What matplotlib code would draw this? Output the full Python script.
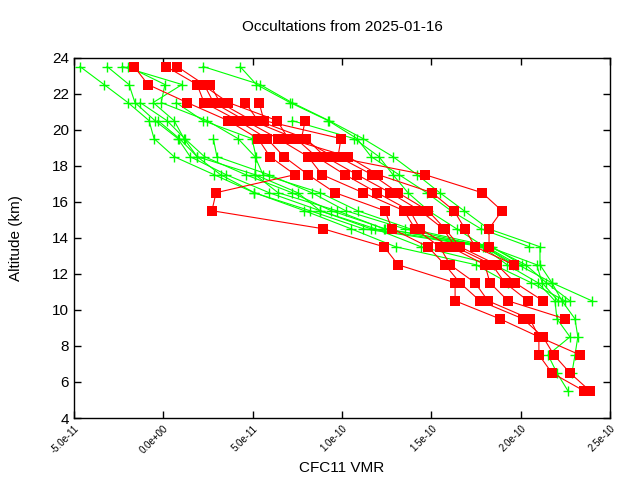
import matplotlib
matplotlib.use("Agg")
import matplotlib.pyplot as plt
import numpy as np

plt.rcParams['font.family'] = ['Liberation Sans', 'DejaVu Sans']

# CFC11 VMR profiles, values in units of 1e-11, listed from the top altitude down (1 km steps)
green_tops = [23.5, 23.5, 23.5, 23.5, 23.5, 23.5, 21.5, 20.5, 20.5, 19.5, 21.5]
green_profiles = [
    [-4.67, -3.32, -1.98, -0.80, -0.52, 0.60, 2.84, 5.08, 8.21, 11.18, 17.88, 19.24, 20.97, 21.92, 22.03, 22.76, 21.53, 22.03, 22.65],
    [-3.15, -1.92, -1.59, -0.47, 0.82, 1.50, 3.51, 5.92, 8.77, 11.60, 18.09, 19.87, 21.75, 22.31, 23.04, 23.20, 23.04, 22.87],
    [-2.31, 1.05, -0.57, 0.60, 1.16, 1.89, 5.13, 6.42, 9.71, 12.33, 18.30, 20.28, 21.44, 22.76],
    [-1.98, 0.09, -0.12, 2.45, 4.18, 5.13, 5.58, 8.77, 10.87, 13.80, 18.40, 20.07],
    [2.22, 5.41, 7.20, 9.27, 11.18, 12.85, 14.20, 15.47, 16.83, 18.19, 21.08, 21.08, 21.75, 23.99],
    [4.29, 5.21, 7.09, 9.22, 10.84, 11.63, 13.19, 14.74, 16.10, 17.77, 20.49],
    [0.71, 2.22, 4.96, 5.19, 5.13, 7.52, 8.77, 11.86, 14.42, 18.50, 20.60, 22.48],
    [7.20, 10.68, 12.07, 12.85, 13.69, 14.84, 16.41, 17.98, 19.55],
    [-0.30, 0.90, 1.89, 3.20, 5.10, 7.90, 10.50, 13.00, 17.50, 19.30],
    [2.80, 3.00, 5.90, 8.30, 10.20, 13.50, 18.00, 19.70],
    [-1.30, 0.20, 1.20, 2.30, 4.60, 7.20, 9.40, 12.40, 18.20, 20.90, 21.20, 22.10],
]

red_tops = [23.5, 23.5, 23.5, 22.5, 21.5, 21.5, 22.5, 20.5]
red_profiles = [
    [-1.64, -0.86, 1.33, 3.62, 5.30, 5.97, 7.37, 2.95, 2.72, 8.94, 12.35, 13.14, 16.33, 16.33, 18.84, 21.02, 21.02, 21.75, 23.55],
    [0.15, 1.89, 2.28, 4.18, 5.80, 6.75, 8.10, 9.61, 12.40, 12.80, 14.81, 15.76, 16.60, 17.72, 20.13, 21.25, 21.86, 22.76, 23.88],
    [0.77, 2.28, 2.81, 4.58, 6.42, 8.10, 8.88, 11.18, 13.47, 14.09, 15.47, 16.05, 17.45, 18.17, 20.52, 21.02, 23.32],
    [2.62, 3.17, 4.96, 7.42, 8.56, 10.16, 11.96, 13.80, 14.37, 16.05, 18.00, 18.28, 19.29, 22.48],
    [4.58, 5.30, 7.99, 9.05, 10.84, 12.69, 14.37, 15.66, 16.33, 18.40, 19.12, 20.41],
    [5.36, 5.63, 9.94, 9.78, 11.68, 13.14, 14.81, 15.76, 16.60, 18.67, 19.69, 21.25],
    [2.18, 3.64, 6.37, 6.99, 10.34, 12.02, 15.04, 16.27, 16.88, 17.45, 19.62],
    [7.94, 7.73, 9.50, 14.64, 17.84, 18.95, 18.23, 18.23],
]

xticks = [-5e-11, 0.0, 5e-11, 1e-10, 1.5e-10, 2e-10, 2.5e-10]
yticks = [4, 6, 8, 10, 12, 14, 16, 18, 20, 22, 24]

fig = plt.figure(figsize=(6.4, 4.8), dpi=100)
ax = fig.add_axes([74 / 640, 62 / 480, 536 / 640, 360.5 / 480])

for top, vals in zip(green_tops, green_profiles):
    alt = top - np.arange(len(vals))
    ax.plot(np.array(vals) * 1e-11, alt, color='#00ff00', lw=0.8, marker='+',
            ms=7, mew=1)

for top, vals in zip(red_tops, red_profiles):
    alt = top - np.arange(len(vals))
    ax.plot(np.array(vals) * 1e-11, alt, color='#ff0000', lw=0.8, marker='s',
            ms=6.5, mew=0)

ax.set_xlim(-5e-11, 2.5e-10)
ax.set_ylim(4, 24)
ax.set_xticks(xticks)
ax.set_xticklabels(['%.1e' % v for v in xticks], rotation=45, ha='right',
                   va='top', rotation_mode='anchor', fontsize=7)
ax.set_yticks(yticks)
ax.tick_params(direction='in', top=True, right=True, length=5, width=1,
               labelsize=11)
ax.tick_params(axis='x', labelsize=7, pad=4)
for s in ax.spines.values():
    s.set_linewidth(1)

ax.set_xlabel("CFC11 VMR", fontsize=11, labelpad=4)
ax.set_ylabel("Altitude (km)", fontsize=11, labelpad=21)
ax.set_title("Occultations from 2025-01-16", fontsize=11, pad=19)

fig.savefig("out.png", dpi=100)
